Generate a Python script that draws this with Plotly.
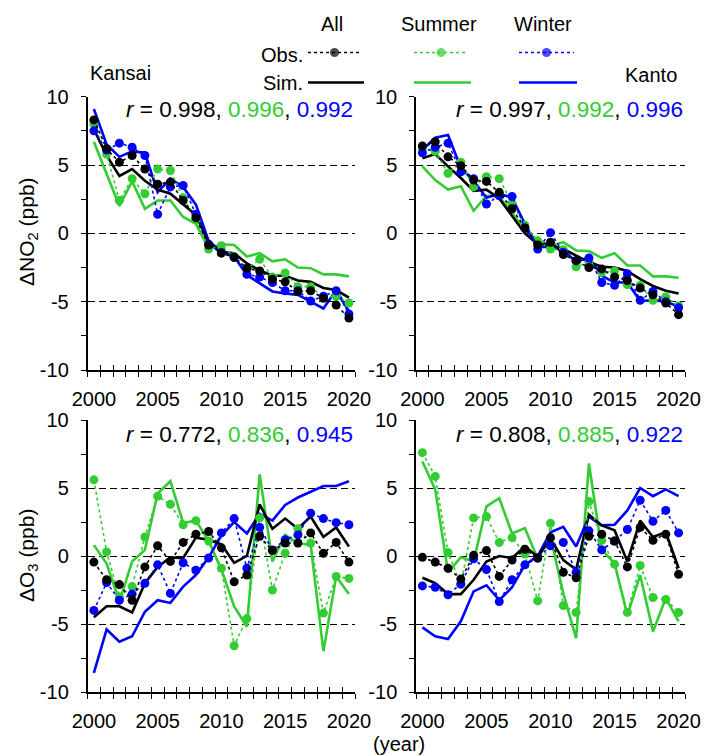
import plotly.graph_objects as go

years = list(range(2000, 2021))

# ---- Kansai NO2 ----
kansai_no2_obs_all = [8.3, 6.2, 5.2, 5.7, 4.7, 3.6, 3.75, 2.4, 1.15, -0.85, -1.45, -1.75, -2.55, -2.75, -3.35, -3.55, -4.25, -4.2, -4.75, -5.25, -6.2]
kansai_no2_obs_sum = [8.0, 5.8, 2.4, 4.0, 2.9, 4.7, 4.6, 2.6, 1.0, -1.15, -0.9, -1.7, -2.6, -1.9, -3.2, -2.9, -3.9, -3.9, -4.7, -4.6, -5.1]
kansai_no2_obs_win = [7.5, 6.1, 6.6, 6.3, 5.7, 1.4, 3.4, 3.5, 1.4, -0.8, -1.4, -1.75, -3.0, -3.2, -3.6, -4.2, -4.2, -4.95, -4.6, -4.2, -5.9]
kansai_no2_sim_all = [7.6, 5.7, 4.2, 4.7, 3.85, 3.2, 2.9, 2.1, 1.35, -0.7, -1.35, -1.45, -2.2, -2.7, -3.1, -3.1, -3.45, -3.55, -4.0, -4.15, -4.7]
kansai_no2_sim_sum = [6.7, 4.4, 2.0, 3.8, 1.8, 2.4, 2.4, 1.2, 0.7, -1.1, -0.8, -0.85, -1.7, -1.45, -2.05, -1.9, -2.5, -2.55, -3.0, -3.0, -3.15]
kansai_no2_sim_win = [9.1, 6.5, 5.6, 6.0, 5.9, 3.0, 4.0, 3.4, 2.1, -0.55, -1.35, -1.7, -3.05, -3.65, -4.25, -4.4, -4.5, -5.0, -5.5, -4.15, -5.7]

# ---- Kanto NO2 ----
kanto_no2_obs_all = [6.4, 6.7, 5.6, 4.95, 3.9, 3.8, 3.0, 1.8, 0.4, -0.85, -0.65, -1.55, -2.0, -2.5, -2.6, -3.2, -3.45, -4.0, -4.5, -5.1, -5.95]
kanto_no2_obs_sum = [6.25, 6.0, 4.4, 5.2, 3.4, 4.15, 4.0, 2.2, 0.6, -0.55, -1.15, -1.2, -2.45, -2.1, -2.85, -2.75, -3.75, -3.8, -4.9, -4.65, -5.3]
kanto_no2_obs_win = [5.9, 6.3, 6.6, 4.5, 4.0, 2.15, 2.75, 2.7, 0.4, -1.15, 0.05, -1.4, -2.0, -1.8, -3.6, -3.8, -2.95, -4.9, -4.25, -5.0, -5.45]
kanto_no2_sim_all = [5.5, 5.8, 4.9, 4.05, 3.1, 3.2, 2.55, 1.3, 0.0, -0.8, -0.85, -1.15, -1.65, -2.1, -2.45, -2.5, -2.75, -3.35, -3.85, -4.2, -4.4]
kanto_no2_sim_sum = [4.9, 3.9, 3.2, 3.45, 1.65, 2.75, 2.7, 1.5, 0.2, -0.5, -0.9, -0.65, -1.25, -1.3, -1.8, -1.45, -2.35, -2.35, -3.15, -3.15, -3.25]
kanto_no2_sim_win = [6.1, 7.0, 7.2, 4.8, 3.85, 2.6, 2.9, 2.6, 0.7, -1.0, -1.0, -1.2, -2.1, -1.75, -3.1, -3.6, -3.6, -4.95, -4.9, -5.0, -5.35]

# ---- Kansai O3 ----
kansai_o3_obs_all = [-0.45, -1.75, -2.1, -3.25, -0.8, 0.75, -0.4, 1.0, 1.6, 1.8, 0.6, -1.9, -1.4, 1.45, 0.4, 0.95, 0.95, 1.7, 0.2, 1.0, -0.45]
kansai_o3_obs_sum = [5.6, 0.3, -3.0, -2.25, 1.4, 4.4, 3.8, 2.3, 2.6, 1.1, -0.9, -6.6, -4.6, 2.8, -2.5, 0.2, 2.0, 0.95, -4.2, -1.5, -1.65]
kansai_o3_obs_win = [-4.0, -1.95, -3.25, -2.8, -2.0, -0.65, -2.75, -0.5, -1.05, -0.15, 1.7, 2.75, -0.9, 2.1, 0.45, 1.2, 1.55, 3.15, 2.75, 2.45, 2.3]
kansai_o3_sim_all = [-4.5, -3.7, -3.7, -4.15, -2.0, -0.8, -0.1, -0.15, 1.35, 1.2, 0.85, -0.5, 0.0, 3.8, 2.0, 2.75, 2.0, 2.9, 1.4, 2.1, 0.7]
kansai_o3_sim_sum = [0.8, -0.55, -3.35, -0.4, 0.45, 4.6, 5.5, 2.45, 2.6, 1.1, -1.0, -3.7, -5.2, 6.0, -0.4, 1.55, 0.95, 0.8, -7.0, -1.5, -2.8]
kansai_o3_sim_win = [-8.6, -5.4, -6.3, -5.9, -4.1, -3.25, -3.45, -2.25, -1.4, -0.1, 1.5, 2.5, 1.65, 3.1, 2.6, 3.75, 4.3, 4.7, 5.15, 5.15, 5.5]

# ---- Kanto O3 ----
kanto_o3_obs_all = [-0.1, -0.45, -0.9, -1.7, 0.05, 0.4, -1.5, -0.3, 0.5, -0.15, 1.35, -1.2, -1.6, 1.45, 1.6, 1.1, -0.8, 2.1, 1.15, 1.6, -1.35]
kanto_o3_obs_sum = [7.6, 5.85, 0.25, -2.1, 2.8, 2.9, 1.0, 1.35, 0.15, -3.3, 2.4, -3.65, -4.15, 4.0, 1.15, -0.6, -4.15, -0.7, -3.05, -3.2, -4.15]
kanto_o3_obs_win = [-2.2, -2.3, -2.85, -2.05, -0.2, -1.0, -3.35, -1.75, -0.65, -0.15, 0.75, 1.0, -1.2, 1.85, 0.45, 1.1, 1.95, 4.1, 2.55, 3.35, 1.7]
kanto_o3_sim_all = [-1.6, -2.0, -2.8, -2.8, -1.75, -0.4, 0.0, -0.15, 0.7, -0.05, 1.3, -0.3, -1.0, 3.05, 2.25, 1.9, -0.4, 2.6, 1.4, 1.75, -0.9]
kanto_o3_sim_sum = [6.95, 4.9, -1.2, -0.1, -0.4, 3.65, 4.25, 1.65, 2.05, -0.2, 1.4, -2.75, -6.05, 6.8, 0.45, -0.55, -4.35, -1.4, -5.55, -3.1, -4.8]
kanto_o3_sim_win = [-5.25, -5.9, -6.1, -4.8, -2.6, -2.15, -3.25, -2.3, -0.65, 0.0, 1.75, 2.15, 0.7, 2.9, 2.25, 2.3, 3.35, 5.0, 4.4, 4.9, 4.4]

r_values = [("0.998", "0.996", "0.992"), ("0.997", "0.992", "0.996"),
            ("0.772", "0.836", "0.945"), ("0.808", "0.885", "0.922")]

x_tick_years = [2000, 2005, 2010, 2015, 2020]
y_major = [-10, -5, 0, 5, 10]
y_minor = [-7.5, -2.5, 2.5, 7.5]

BLACK = "#000000"
GREEN = "rgb(51,204,51)"
BLUE = "rgb(0,0,255)"
FONT = "Arial, 'Liberation Sans', sans-serif"
W, H = 710, 756
OFF = 8.0   # the page body adds an 8 px margin; positions below are window pixels

def fx(px):
    return (px - OFF) / W

def fy(py):
    return 1 - (py - OFF) / H

panels = [
    dict(data=(kansai_no2_obs_all, kansai_no2_obs_sum, kansai_no2_obs_win,
               kansai_no2_sim_all, kansai_no2_sim_sum, kansai_no2_sim_win),
         xpx=(87.5, 355.3), ypx=(96.7, 370.0)),
    dict(data=(kanto_no2_obs_all, kanto_no2_obs_sum, kanto_no2_obs_win,
               kanto_no2_sim_all, kanto_no2_sim_sum, kanto_no2_sim_win),
         xpx=(416.0, 685.0), ypx=(96.7, 370.0)),
    dict(data=(kansai_o3_obs_all, kansai_o3_obs_sum, kansai_o3_obs_win,
               kansai_o3_sim_all, kansai_o3_sim_sum, kansai_o3_sim_win),
         xpx=(87.5, 355.3), ypx=(420.0, 692.0)),
    dict(data=(kanto_o3_obs_all, kanto_o3_obs_sum, kanto_o3_obs_win,
               kanto_o3_sim_all, kanto_o3_sim_sum, kanto_o3_sim_win),
         xpx=(416.0, 685.0), ypx=(420.0, 692.0)),
]

fig = go.Figure()
layout = dict(width=W, height=H, margin=dict(l=0, r=0, t=0, b=0, pad=0, autoexpand=False),
              template="none",
              paper_bgcolor="white", plot_bgcolor="rgba(0,0,0,0)",
              showlegend=False, font=dict(family=FONT, size=20, color="black"))

half_years = [y - 0.5 for y in years] + [years[-1] + 0.5]

for i, p in enumerate(panels):
    n = i + 1
    xa = "x" if n == 1 else f"x{n}"
    ya = "y" if n == 1 else f"y{n}"
    obs_all, obs_sum, obs_win, sim_all, sim_sum, sim_win = p["data"]
    for vals, col in ((sim_sum, GREEN), (sim_win, BLUE), (sim_all, BLACK)):
        fig.add_trace(go.Scatter(x=years, y=vals, mode="lines", xaxis=xa, yaxis=ya,
                                 line=dict(color=col, width=2.6), hoverinfo="skip"))
    for vals, col in ((obs_sum, GREEN), (obs_win, BLUE), (obs_all, BLACK)):
        fig.add_trace(go.Scatter(x=years, y=vals, mode="lines+markers", xaxis=xa, yaxis=ya,
                                 line=dict(color=col, width=1.6, dash="dot"),
                                 marker=dict(color=col, size=9, line=dict(width=0)),
                                 hoverinfo="skip"))
    x0, x1 = p["xpx"]
    y0, y1 = p["ypx"]
    dom_x = [fx(x0), fx(x1)]
    dom_y = [fy(y1), fy(y0)]
    xkey = "xaxis" if n == 1 else f"xaxis{n}"
    ykey = "yaxis" if n == 1 else f"yaxis{n}"
    layout[xkey] = dict(domain=dom_x, anchor=ya, range=[1999.5, 2020.5], automargin=False,
                        showline=True, linecolor="black", linewidth=1.5,
                        showgrid=False, zeroline=False,
                        tickmode="array", tickvals=x_tick_years,
                        ticktext=[str(v) for v in x_tick_years],
                        ticks="", ticklen=0, ticklabelstandoff=10,
                        tickfont=dict(size=20),
                        minor=dict(tickmode="array", tickvals=half_years, ticks="outside",
                                   ticklen=5, tickwidth=1.3, tickcolor="black", showgrid=False))
    layout[ykey] = dict(domain=dom_y, anchor=xa, range=[-10, 10], automargin=False,
                        showline=True, linecolor="black", linewidth=1.5,
                        zeroline=False, showgrid=True, gridcolor="black", gridwidth=1.2,
                        griddash="7px,4px",
                        tickmode="array", tickvals=y_major, ticktext=[str(v) for v in y_major],
                        ticks="outside", ticklen=5, tickwidth=1.3, tickcolor="black",
                        ticklabelstandoff=8, tickfont=dict(size=20),
                        minor=dict(tickmode="array", tickvals=y_minor, ticks="outside",
                                   ticklen=5, tickwidth=1.3, tickcolor="black", showgrid=False))
    ov = n + 4
    layout[f"xaxis{ov}"] = dict(overlaying=xa, anchor=ya, range=[1999.5, 2020.5], automargin=False,
                                showline=False, showgrid=False, zeroline=False,
                                tickmode="array", tickvals=half_years, ticks="inside",
                                ticklen=5, tickwidth=1.3, tickcolor="black",
                                showticklabels=False, side="bottom")
    fig.add_trace(go.Scatter(x=[None], y=[None], xaxis=f"x{ov}", yaxis=ya,
                             mode="markers", hoverinfo="skip"))

# legend glyph axis in window-pixel coordinates
layout["xaxis9"] = dict(domain=[0, 1], anchor="y9", range=[OFF, W + OFF], visible=False,
                        fixedrange=True, automargin=False)
layout["yaxis9"] = dict(domain=[0, 1], anchor="x9", range=[H + OFF, OFF], visible=False,
                        fixedrange=True, automargin=False)

legend_cols = [(BLACK, 308, 361), (GREEN, 414, 468), (BLUE, 519, 574)]
for col, lx0, lx1 in legend_cols:
    xc = (lx0 + lx1) / 2
    fig.add_trace(go.Scatter(x=[lx0, xc, lx1], y=[52.5, 52.5, 52.5], mode="lines+markers",
                             xaxis="x9", yaxis="y9",
                             line=dict(color=col, width=1.6, dash="dot"),
                             marker=dict(color=col, size=[0, 9, 0], line=dict(width=0)),
                             hoverinfo="skip"))
    fig.add_trace(go.Scatter(x=[lx0, lx1 + 3], y=[82.5, 82.5], mode="lines",
                             xaxis="x9", yaxis="y9",
                             line=dict(color=col, width=2.6), hoverinfo="skip"))

ann = []
def txt(text, x, y, xanchor="center", size=20, angle=0, color="black"):
    ann.append(dict(text=text, x=fx(x), y=fy(y), xref="paper", yref="paper",
                    xanchor=xanchor, yanchor="middle", showarrow=False,
                    textangle=angle, font=dict(family=FONT, size=size, color=color)))

txt("All", 332, 24)
txt("Summer", 439, 24)
txt("Winter", 543, 24)
txt("Obs.", 305, 55, xanchor="right")
txt("Sim.", 305, 83, xanchor="right")
txt("Kansai", 120, 73)
txt("Kanto", 651, 75)

r_pos = [(355.3, 109), (685.0, 109), (355.3, 434), (685.0, 434)]
for (a, s, w), (rx, ry) in zip(r_values, r_pos):
    t = (f"<i>r</i> = {a}, <span style='color:{GREEN}'>{s}</span>, "
         f"<span style='color:{BLUE}'>{w}</span>")
    txt(t, rx, ry, xanchor="right", size=22.5)

txt("ΔNO<sub>2</sub> (ppb)", 28, 232, angle=-90, size=21)
txt("ΔO<sub>3</sub> (ppb)", 28, 556, angle=-90, size=21)
txt("(year)", 399, 744, size=20)

layout["annotations"] = ann
fig.update_layout(**layout)
fig.write_html("out.html")
